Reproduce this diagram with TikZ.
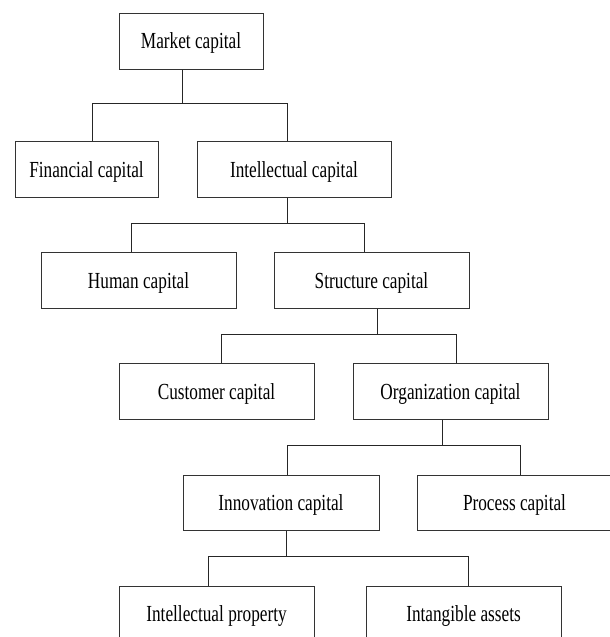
\documentclass[tikz,border=0pt]{standalone}
\usepackage{fontspec}
\setmainfont{Liberation Serif}
\usetikzlibrary{calc}
\newcommand{\cond}[1]{\scalebox{0.75}[1]{#1}}
\begin{document}
\begin{tikzpicture}[x=1pt,y=-1pt,
  box/.style={draw=black!80, line width=1pt, minimum height=55.6pt, inner sep=0pt,
    font=\fontsize{23}{23}\selectfont, text height=15.2pt, text depth=0pt},
  link/.style={draw=black!85, line width=1pt}]
\useasboundingbox (0,0) rectangle (610,637);
\clip (0,0) rectangle (610,637);
% nodes
\node[box, minimum width=144pt] (mc) at (191,41.2) {\cond{Market capital}};
\node[box, minimum width=143pt] (fc) at (86.5,169.6) {\cond{Financial capital}};
\node[box, minimum width=194pt] (ic) at (294,169.6) {\cond{Intellectual capital}};
\node[box, minimum width=195pt] (hc) at (138.5,280.5) {\cond{Human capital}};
\node[box, minimum width=195pt] (sc) at (371.5,280.5) {\cond{Structure capital}};
\node[box, minimum width=195pt] (cc) at (216.5,391.7) {\cond{Customer capital}};
\node[box, minimum width=195pt] (oc) at (450.5,391.7) {\cond{Organization capital}};
\node[box, minimum width=196pt] (inc) at (281,503) {\cond{Innovation capital}};
\node[box, minimum width=195pt] (pc) at (514.5,503) {\cond{Process capital}};
\node[box, minimum width=195pt] (ip) at (216.5,614) {\cond{Intellectual property}};
\node[box, minimum width=195pt] (ia) at (463.5,614) {\cond{Intangible assets}};
% connectors
\coordinate (j1) at (182,103.5);
\draw[link] ([xshift=-9pt]mc.south) -- (j1);
\draw[link] ([xshift=5.5pt]fc.north) |- (j1) -| ([xshift=-7pt]ic.north);
\coordinate (j2) at (287,223.3);
\draw[link] ([xshift=-7pt]ic.south) -- (j2);
\draw[link] ([xshift=-7.5pt]hc.north) |- (j2) -| ([xshift=-7.5pt]sc.north);
\coordinate (j3) at (377.5,334.8);
\draw[link] ([xshift=6pt]sc.south) -- (j3);
\draw[link] ([xshift=4.5pt]cc.north) |- (j3) -| ([xshift=5.5pt]oc.north);
\coordinate (j4) at (442,445.7);
\draw[link] ([xshift=-8.5pt]oc.south) -- (j4);
\draw[link] ([xshift=6pt]inc.north) |- (j4) -| ([xshift=5.5pt]pc.north);
\coordinate (j5) at (286,556.8);
\draw[link] ([xshift=5pt]inc.south) -- (j5);
\draw[link] ([xshift=-8.5pt]ip.north) |- (j5) -| ([xshift=4.5pt]ia.north);
\end{tikzpicture}
\end{document}
